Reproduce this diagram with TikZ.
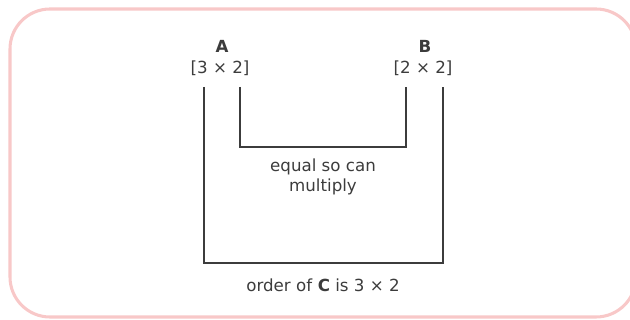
\documentclass[tikz,border=0pt]{standalone}
\usepackage{fontspec}
\setmainfont{DejaVu Sans}
\definecolor{framepink}{RGB}{248,200,200}
\definecolor{inkgray}{RGB}{60,60,60}

\begin{document}
\begin{tikzpicture}[x=0.75pt,y=0.75pt,
  lbl/.style={text=inkgray,font=\fontsize{12.5}{15.5}\selectfont,inner sep=0pt,align=center},
  bracket/.style={draw=inkgray,line width=1.4pt}]
\useasboundingbox (0,0) rectangle (630,320);
\clip (0,0) rectangle (630,320);
\draw[framepink,line width=2.3pt,rounded corners=30pt] (10,3) rectangle (636,311);
% matrix names and orders
\node[lbl] (A) at (222,274) {\textbf{A}};
\node[lbl] (Aord) at (220,252) {[3 × 2]};
\node[lbl] (B) at (425,274) {\textbf{B}};
\node[lbl] (Bord) at (423,252) {[2 × 2]};
% ends of the brackets
\coordinate (a1) at (204,233);
\coordinate (a2) at (240,233);
\coordinate (b1) at (406,233);
\coordinate (b2) at (443,233);
\coordinate (inner) at (323,173);
\coordinate (outer) at (323,57);
\draw[bracket] (a2) |- (inner) -| (b1);
\draw[bracket] (a1) |- (outer) -| (b2);
\node[lbl] (mult) at (323,143) {equal so can\\multiply};
\node[lbl] (order) at (323,35) {order of \textbf{C} is 3 × 2};
\end{tikzpicture}
\end{document}
